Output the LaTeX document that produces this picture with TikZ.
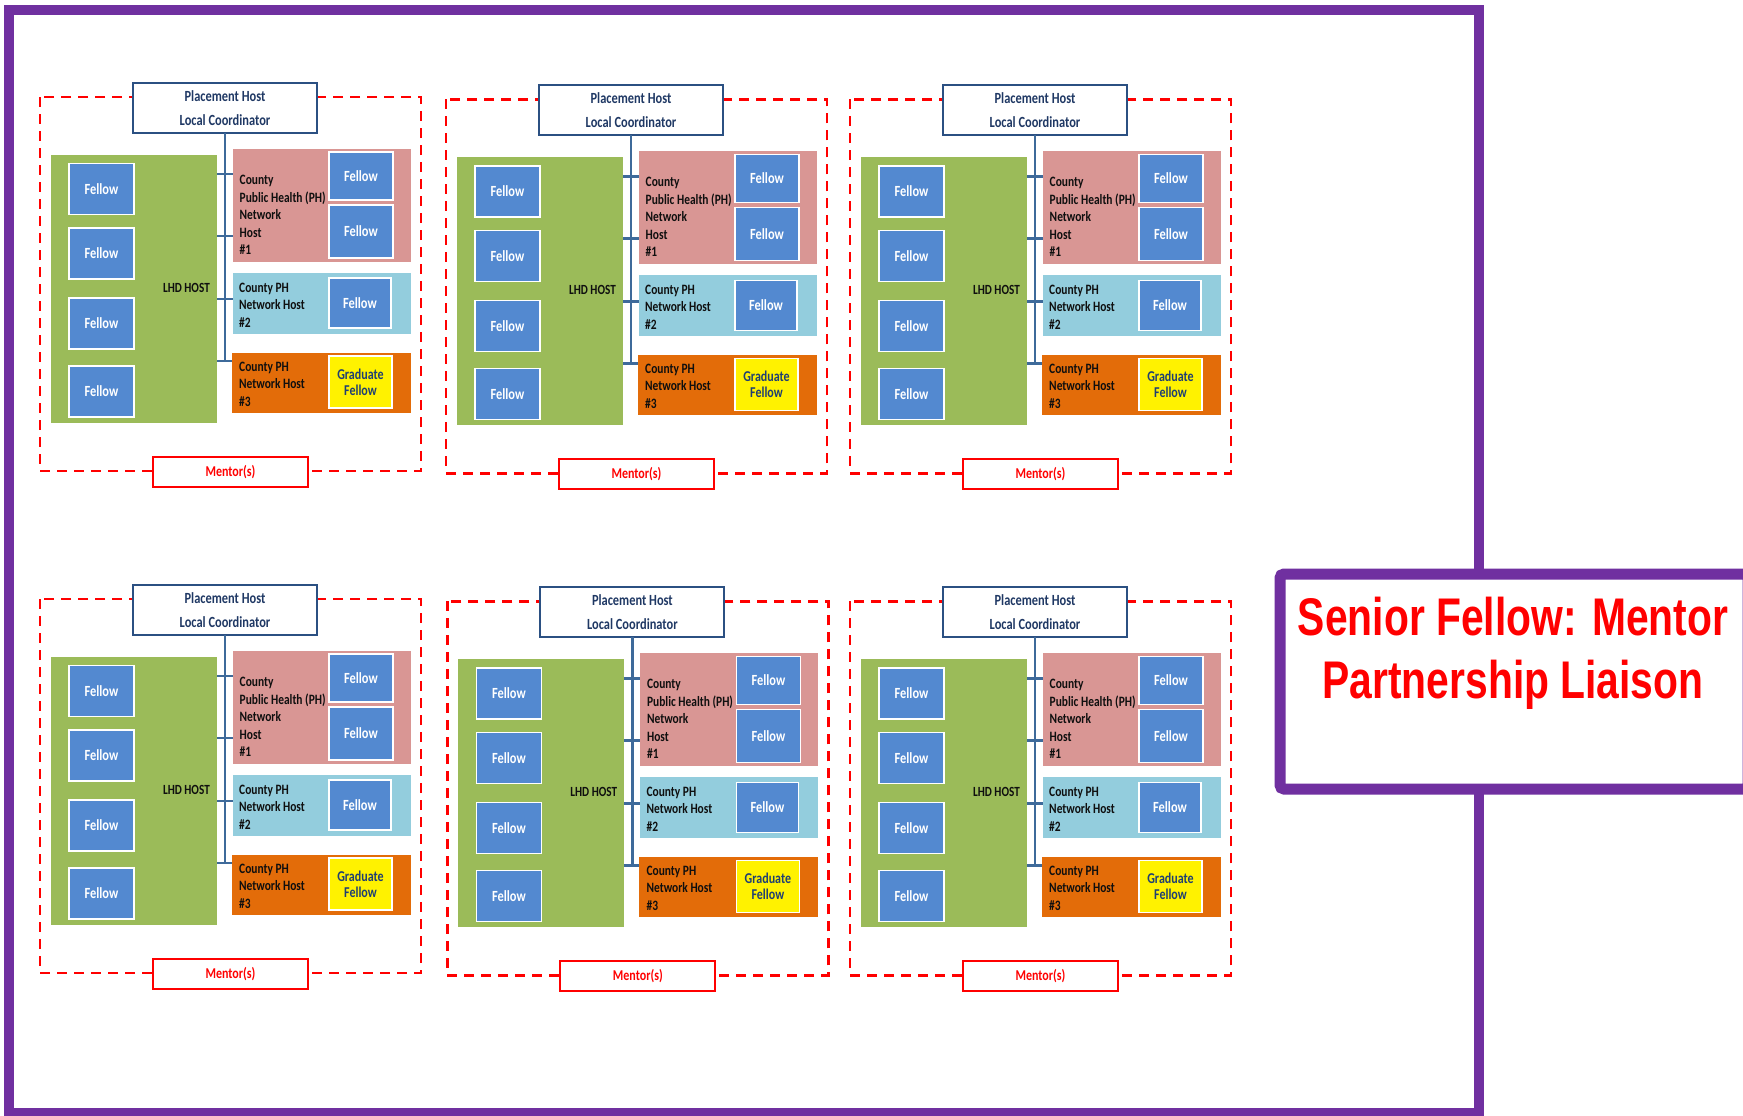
\documentclass[tikz,border=0pt]{standalone}
\usepackage{fontspec}
\newfontfamily\blk[FakeStretch=0.8]{Carlito}
\newfontfamily\sfl[FakeStretch=0.77]{Liberation Sans}
\definecolor{framepurple}{HTML}{7030A0}
\definecolor{lhdgreen}{HTML}{9BBB59}
\definecolor{hostpink}{HTML}{D99694}
\definecolor{hostblue}{HTML}{93CDDD}
\definecolor{hostorange}{HTML}{E36C09}
\definecolor{fellowblue}{HTML}{5389D0}
\definecolor{navyline}{HTML}{2B5082}
\definecolor{navytext}{HTML}{1F3864}
\definecolor{connblue}{HTML}{3E6A9A}
\definecolor{gradtext}{HTML}{1F3F73}
\definecolor{hosttext}{HTML}{0F0F0F}
\begin{document}
\begin{tikzpicture}[x=1pt,y=-1pt,
  box/.style={rectangle, inner sep=0pt, outer sep=0pt},
  fellowbox/.style={box, fill=fellowblue, draw=white, line width=1.6pt, text=white,
    font=\blk\bfseries\fontsize{15.5}{17}\selectfont},
  gradbox/.style={box, fill=yellow, draw=white, line width=1.6pt, text=gradtext, align=center,
    font=\blk\bfseries\fontsize{15}{16}\selectfont},
  hostbox/.style={box},
  hostlabel/.style={inner sep=0pt, anchor=west, align=left, text=hosttext,
    font=\blk\bfseries\fontsize{14.3}{17.5}\selectfont},
  placebox/.style={box, fill=white, draw=navyline, line width=2pt, text=navytext, align=center,
    font=\blk\bfseries\fontsize{15.5}{24}\selectfont},
  mentorbox/.style={box, fill=white, draw=red, line width=2pt, text=red,
    font=\blk\bfseries\fontsize{15}{17}\selectfont},
  groupframe/.style={draw=red, line width=2.5pt, dash pattern=on 10pt off 7pt},
  conn/.style={draw=connblue, line width=2.6pt}
]
\useasboundingbox (0,0) rectangle (1743,1116);
\clip (0,0) rectangle (1743,1116);
\fill[white] (0,0) rectangle (1743,1116);

% outer purple frame
\draw[framepurple, line width=10pt] (8.5,10) rectangle (1479,1112.5);

\foreach \i/\dx/\dy in {1/0/0, 2/406/2.3, 3/810/2.3, 4/0/502, 5/407.4/504.3, 6/810/504.3}{
\begin{scope}[shift={(\dx,\dy)}]
  \draw[groupframe] (40,97) rectangle (421,471);
  % LHD host
  \node[box, fill=lhdgreen, minimum width=166pt, minimum height=268pt] (lhd\i) at (134,289) {};
  \node[inner sep=0pt, anchor=east, text=hosttext, font=\blk\bfseries\fontsize{14}{16}\selectfont] (lhdt\i) at (210,288) {LHD HOST};
  \node[fellowbox, minimum width=65pt, minimum height=51pt] (la\i) at (101.5,189) {Fellow};
  \node[fellowbox, minimum width=65pt, minimum height=51pt] (lb\i) at (101.5,253.5) {Fellow};
  \node[fellowbox, minimum width=65pt, minimum height=51pt] (lc\i) at (101.5,323.5) {Fellow};
  \node[fellowbox, minimum width=65pt, minimum height=51pt] (ld\i) at (101.5,391.5) {Fellow};
  % host 1
  \node[hostbox, fill=hostpink, minimum width=178pt, minimum height=113pt] (pk\i) at (322,205.5) {};
  \node[hostlabel] (pkt\i) at (239.5,215) {County\\Public Health (PH)\\Network\\Host\\\#1};
  \node[fellowbox, minimum width=64pt, minimum height=48pt] (pa\i) at (361,176) {Fellow};
  \node[fellowbox, minimum width=64pt, minimum height=53pt] (pb\i) at (361,231.5) {Fellow};
  % host 2
  \node[hostbox, fill=hostblue, minimum width=178pt, minimum height=61pt] (bl\i) at (322,303.5) {};
  \node[hostlabel] (blt\i) at (239,305) {County PH\\Network Host\\\#2};
  \node[fellowbox, minimum width=62pt, minimum height=50pt] (ba\i) at (360,303) {Fellow};
  % host 3
  \node[hostbox, fill=hostorange, minimum width=179pt, minimum height=60pt] (or\i) at (321.5,383) {};
  \node[hostlabel] (ort\i) at (239,384) {County PH\\Network Host\\\#3};
  \node[gradbox, minimum width=63pt, minimum height=52pt] (gr\i) at (360.5,382) {Graduate\\Fellow};
  % coordinator and mentor
  \node[placebox, minimum width=184pt, minimum height=50pt] (ph\i) at (225,108) {Placement Host\\Local Coordinator};
  \node[mentorbox, minimum width=155pt, minimum height=30pt] (mt\i) at (230.5,472) {Mentor(s)};
  % connectors
  \coordinate (ja\i) at (225,174);
  \coordinate (jb\i) at (225,236);
  \coordinate (jc\i) at (225,299);
  \coordinate (jd\i) at (225,361);
  \draw[conn] (ph\i.south) -- (jd\i);
  \draw[conn] (lhd\i.east |- ja\i) -- (pk\i.west |- ja\i);
  \draw[conn] (lhd\i.east |- jb\i) -- (pk\i.west |- jb\i);
  \draw[conn] (lhd\i.east |- jc\i) -- (bl\i.west |- jc\i);
  \draw[conn] (lhd\i.east |- jd\i) -- (or\i.west |- jd\i);
\end{scope}
}

% senior fellow box
\node[box, fill=white, draw=framepurple, line width=11pt, rounded corners=4pt,
  minimum width=468pt, minimum height=215pt] (senior) at (1514,681.5) {};
\node[inner sep=0pt, align=center, text=red,
  font=\sfl\bfseries\fontsize{53}{63}\selectfont] (seniortext) at (1513,653)
  {Senior Fellow: Mentor\\Partnership Liaison};
\end{tikzpicture}
\end{document}
